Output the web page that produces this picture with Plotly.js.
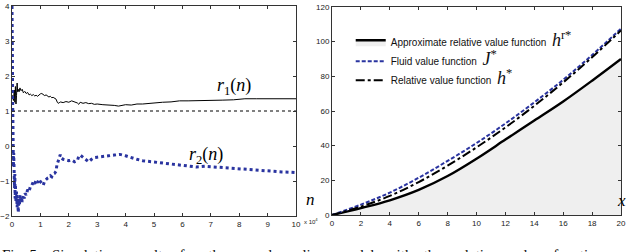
<!DOCTYPE html>
<html><head><meta charset="utf-8">
<script src="https://cdn.plot.ly/plotly-3.0.1.min.js"></script>
<style>html,body{margin:0;padding:0;background:#fff;}#chart{width:640px;height:252px;}</style>
</head><body><div id="chart"></div>
<script>
// ---- Left panel: r1(n), r2(n)   (n in units of 10^4)
const r1N = [0.02,0.05,0.08,0.10,0.12,0.14,0.16,0.18,0.20,0.22,0.25,0.28,0.32,0.36,0.40,0.45,0.50,0.55,0.60,0.65,0.70,0.75,0.80,0.85,0.90,0.95,1.00,1.05,1.10,1.15,1.20,1.25,1.30,1.35,1.40,1.45,1.50,1.55,1.60,1.65,1.70,1.80,1.90,2.00,2.10,2.20,2.30,2.35,2.40,2.50,2.60,2.70,2.80,2.90,3.00,3.20,3.40,3.60,3.75,3.85,4.00,4.20,4.40,4.60,4.80,5.00,5.30,5.60,5.90,6.20,6.50,6.80,7.10,7.40,7.80,8.20,8.60,9.00,9.30,9.60,10.0];
const r1V = [1.45,1.30,1.60,1.25,1.70,1.20,1.45,1.80,1.55,1.62,1.55,1.66,1.58,1.62,1.52,1.56,1.50,1.53,1.46,1.48,1.44,1.47,1.43,1.45,1.42,1.46,1.49,1.50,1.47,1.44,1.46,1.42,1.40,1.42,1.38,1.39,1.36,1.34,1.24,1.22,1.26,1.24,1.27,1.25,1.29,1.26,1.23,1.19,1.25,1.22,1.24,1.21,1.22,1.19,1.20,1.18,1.18,1.16,1.14,1.16,1.18,1.17,1.20,1.20,1.22,1.22,1.25,1.26,1.29,1.29,1.30,1.29,1.30,1.31,1.32,1.35,1.35,1.35,1.37,1.35,1.35];
const r2N = [0.00,0.01,0.015,0.02,0.025,0.03,0.035,0.04,0.045,0.05,0.06,0.07,0.08,0.09,0.10,0.11,0.12,0.14,0.16,0.18,0.20,0.22,0.24,0.26,0.28,0.30,0.33,0.36,0.40,0.43,0.46,0.50,0.55,0.60,0.65,0.70,0.75,0.80,0.85,0.90,0.95,1.00,1.05,1.10,1.15,1.20,1.25,1.30,1.35,1.40,1.45,1.50,1.55,1.58,1.62,1.66,1.70,1.75,1.80,1.90,2.00,2.10,2.20,2.30,2.35,2.40,2.50,2.60,2.70,2.80,2.90,3.00,3.20,3.40,3.60,3.80,4.00,4.20,4.40,4.60,4.80,5.00,5.30,5.60,5.90,6.20,6.50,6.80,7.10,7.40,7.70,8.00,8.30,8.60,8.90,9.20,9.50,9.80,10.0];
const r2V = [4.0,3.5,2.5,1.5,0.5,1.2,0.0,0.4,-0.3,-0.6,-0.2,-0.9,-0.5,-1.2,-0.8,-1.5,-1.1,-1.6,-1.3,-1.75,-1.5,-1.9,-1.55,-1.7,-1.4,-1.6,-1.45,-1.6,-1.4,-1.5,-1.35,-1.4,-1.25,-1.3,-1.15,-1.12,-1.02,-1.08,-0.98,-1.05,-0.95,-1.02,-1.08,-1.12,-1.0,-0.95,-0.92,-0.9,-0.85,-0.88,-0.8,-0.78,-0.72,-0.55,-0.4,-0.35,-0.25,-0.35,-0.38,-0.4,-0.42,-0.4,-0.45,-0.42,-0.3,-0.26,-0.33,-0.38,-0.45,-0.38,-0.33,-0.32,-0.31,-0.28,-0.26,-0.24,-0.28,-0.34,-0.38,-0.42,-0.44,-0.46,-0.5,-0.53,-0.56,-0.58,-0.6,-0.58,-0.6,-0.62,-0.64,-0.66,-0.68,-0.7,-0.71,-0.73,-0.74,-0.75,-0.76];
const refN = [0, 10];
const refV = [1, 1];

// ---- Right panel: value functions
const xs   = [0,2,4,6,8,10,12,14,16,18,20];
const hRstar = [0,4.0,8.5,14.5,22.5,32.5,43.5,54.5,65.5,77.5,90];
const Jstar  = [0,6.0,12.9,21.5,31.2,41.5,52.8,65.0,78.0,92.3,107.5];
const hStar  = [0,4.8,11.0,19.0,28.5,39.0,50.5,63.0,76.5,91.0,106.5];

const leftXTicks = [0,1,2,3,4,5,6,7,8,9,10];
const leftYTicks = [-2,-1,0,1,2,3,4];
const rightXTicks = [0,2,4,6,8,10,12,14,16,18,20];
const rightYTicks = [0,20,40,60,80,100,120];

const BLUE = '#2a34a0';
const SERIF = 'Liberation Serif, DejaVu Serif, serif';
const SYM = (s) => '<span style="font-family:Liberation Serif;font-size:18px">' + s + '</span>';

const traces = [
  {x: refN, y: refV, xaxis:'x', yaxis:'y', mode:'lines', line:{color:'#000', width:1, dash:'dot'}, showlegend:false, hoverinfo:'skip'},
  {x: r1N, y: r1V, xaxis:'x', yaxis:'y', mode:'lines', line:{color:'#000', width:1}, showlegend:false},
  {x: r2N, y: r2V, xaxis:'x', yaxis:'y', mode:'lines', line:{color:BLUE, width:3, dash:'dot'}, showlegend:false},
  {x: xs, y: hRstar, xaxis:'x2', yaxis:'y2', mode:'lines', line:{color:'#000', width:2.4, shape:'spline'}, fill:'tozeroy', fillcolor:'#efefef',
   name:'Approximate relative value function  ' + SYM('<i>h</i><sup>r*</sup>')},
  {x: xs, y: Jstar, xaxis:'x2', yaxis:'y2', mode:'lines', line:{color:BLUE, width:2, dash:'4px,2px', shape:'spline'},
   name:'Fluid value function  ' + SYM('<i>J</i><sup>*</sup>')},
  {x: xs, y: hStar, xaxis:'x2', yaxis:'y2', mode:'lines', line:{color:'#000', width:2, dash:'dashdot', shape:'spline'},
   name:'Relative value function  ' + SYM('<i>h</i><sup>*</sup>')}
];

const axBase = {showline:true, linecolor:'#333', linewidth:1, mirror:'allticks', ticks:'inside', ticklen:3, tickcolor:'#333',
  showgrid:false, zeroline:false, tickfont:{family:'Liberation Sans, Arial, sans-serif', size:8, color:'#222'}};

const layout = {
  width:640, height:252, margin:{l:0,r:0,t:0,b:0}, paper_bgcolor:'#fff', plot_bgcolor:'#fff',
  showlegend:true,
  legend:{x:0.548, y:0.89, xanchor:'left', yanchor:'top', bgcolor:'rgba(0,0,0,0)',
    font:{family:'Liberation Sans, Arial, sans-serif', size:10, color:'#111'}, itemwidth:30},
  xaxis: Object.assign({}, axBase, {domain:[12/640, 296/640], range:[0,10], tickvals:leftXTicks, anchor:'y'}),
  yaxis: Object.assign({}, axBase, {domain:[1-216/252, 1-6/252], range:[-2,4], tickvals:leftYTicks, anchor:'x'}),
  xaxis2: Object.assign({}, axBase, {domain:[332/640, 621/640], range:[0,20], tickvals:rightXTicks, anchor:'y2'}),
  yaxis2: Object.assign({}, axBase, {domain:[1-215/252, 1-7/252], range:[0,120], tickvals:rightYTicks, anchor:'x2'}),
  annotations:[
    {xref:'x', yref:'y', x:7.82, y:1.71, text:'<i>r</i><sub>1</sub>(<i>n</i>)', showarrow:false, font:{family:SERIF, size:18, color:'#000'}},
    {xref:'x', yref:'y', x:6.83, y:-0.26, text:'<i>r</i><sub>2</sub>(<i>n</i>)', showarrow:false, font:{family:SERIF, size:18, color:'#000'}},
    {xref:'paper', yref:'paper', x:310/640, y:1-211/252, text:'<i>n</i>', showarrow:false, font:{family:SERIF, size:17, color:'#000'}},
    {xref:'paper', yref:'paper', x:311/640, y:1-227/252, text:'x 10<sup>4</sup>', showarrow:false, font:{family:'Liberation Sans, Arial, sans-serif', size:6, color:'#222'}},
    {xref:'paper', yref:'paper', x:628/640, y:1-212/252, text:'<i>x</i>', showarrow:false, font:{family:SERIF, size:17, color:'#000'}},
    {xref:'paper', yref:'paper', x:0, xanchor:'left', y:-0.012, yanchor:'middle', text:'Fig. 5.   Simulation   results   for   the   speed   scaling   model   with   the   relative   value   function   approximations', showarrow:false, font:{family:SERIF, size:15, color:'#111'}}
  ]
};

Plotly.newPlot('chart', traces, layout, {staticPlot:true, displayModeBar:false});
</script></body></html>
